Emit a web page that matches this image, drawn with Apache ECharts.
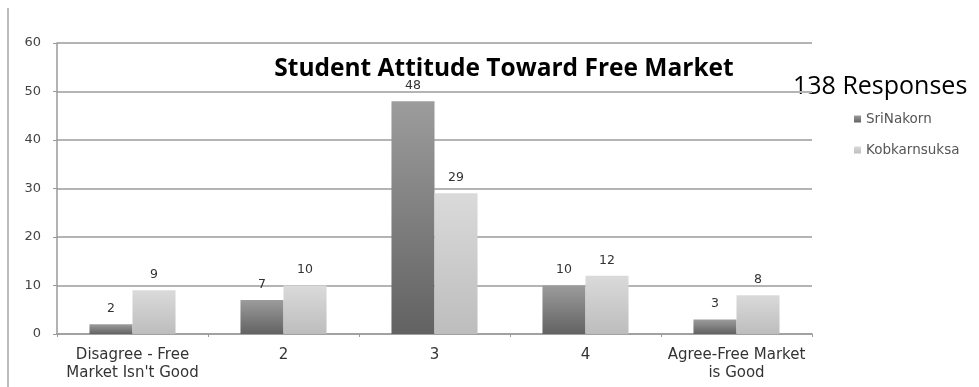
<!DOCTYPE html>
<html>
<head>
<meta charset="utf-8">
<script src="https://cdn.jsdelivr.net/npm/echarts@6/dist/echarts.min.js"></script>
<style>
  html, body { margin: 0; padding: 0; background: #fff; }
  #chart { width: 979px; height: 387px; }
</style>
</head>
<body>
<div id="chart"></div>
<script>
// Survey answers on a 1–5 scale, counted per school
const categories = ['Disagree - Free\nMarket Isn\'t Good', '2', '3', '4', 'Agree-Free Market\nis Good'];
const sriNakorn = [2, 7, 48, 10, 3];
const kobkarnsuksa = [9, 10, 29, 12, 8];
const seriesNames = ['SriNakorn', 'Kobkarnsuksa'];
const yTicks = { min: 0, max: 60, interval: 10 };

const chart = echarts.init(document.getElementById('chart'));

function grad(top, bottom) {
  return new echarts.graphic.LinearGradient(0, 0, 0, 1, [
    { offset: 0, color: top },
    { offset: 1, color: bottom }
  ]);
}

const labelStyle = {
  show: true,
  position: 'top',
  distance: 9,
  color: '#333',
  fontSize: 12.5,
  fontFamily: 'DejaVu Sans'
};

chart.setOption({
  animation: false,
  backgroundColor: '#fff',
  legend: {
    orient: 'vertical',
    left: 849,
    top: 107,
    itemWidth: 7,
    itemHeight: 7,
    itemGap: 17,
    icon: 'rect',
    textStyle: { fontFamily: 'DejaVu Sans', fontSize: 13.5, color: '#555' },
    data: seriesNames
  },
  graphic: [
    {
      type: 'text',
      x: 504,
      y: 69,
      style: {
        text: 'Student Attitude Toward Free Market',
        font: 'bold 24.5px "Open Sans"',
        fill: '#000',
        align: 'center',
        verticalAlign: 'middle'
      }
    },
    {
      type: 'text',
      x: 793,
      y: 87,
      style: {
        text: '138 Responses',
        font: '25px "Open Sans"',
        fill: '#000',
        align: 'left',
        verticalAlign: 'middle'
      }
    },
    {
      type: 'line',
      shape: { x1: 8, y1: 8, x2: 8, y2: 387 },
      style: { stroke: '#bdbdbd', lineWidth: 2 }
    }
  ],
  grid: { left: 57, right: 167, top: 43, bottom: 53 },
  xAxis: {
    type: 'category',
    data: categories,
    axisLine: { lineStyle: { color: '#9a9a9a', width: 1.5 } },
    axisTick: { show: true, length: 3, lineStyle: { color: '#9a9a9a' } },
    axisLabel: {
      color: '#333',
      fontSize: 15,
      fontFamily: 'DejaVu Sans',
      lineHeight: 18,
      margin: 12,
      interval: 0
    }
  },
  yAxis: {
    type: 'value',
    min: yTicks.min,
    max: yTicks.max,
    interval: yTicks.interval,
    axisLine: { show: true, lineStyle: { color: '#9a9a9a', width: 1.5 } },
    axisTick: { show: true, length: 4, lineStyle: { color: '#9a9a9a' } },
    axisLabel: { color: '#444', fontSize: 13, fontFamily: 'DejaVu Sans', margin: 16 },
    splitLine: { lineStyle: { color: '#b4b4b4', width: 2 } }
  },
  series: [
    {
      name: seriesNames[0],
      type: 'bar',
      data: sriNakorn,
      barGap: '0%',
      barCategoryGap: '43%',
      itemStyle: { color: grad('#9c9c9c', '#626262') },
      label: labelStyle
    },
    {
      name: seriesNames[1],
      type: 'bar',
      data: kobkarnsuksa,
      itemStyle: { color: grad('#dadada', '#bdbdbd') },
      label: labelStyle
    }
  ]
});
</script>
</body>
</html>
